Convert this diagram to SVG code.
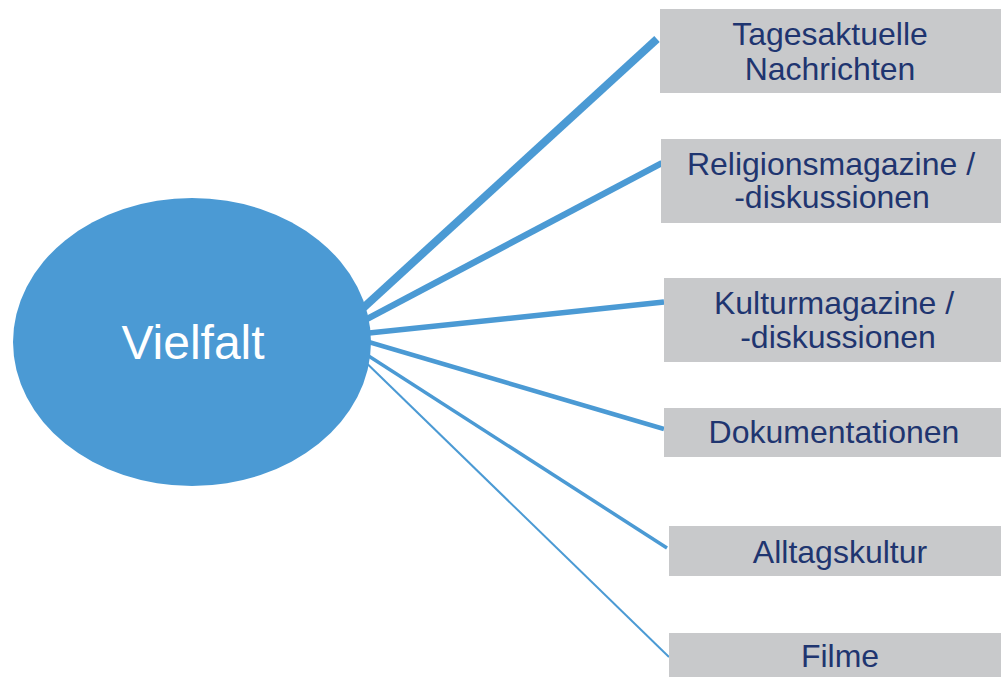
<svg xmlns="http://www.w3.org/2000/svg" width="1001" height="677" viewBox="0 0 1001 677">
<style>
.box{fill:#c8c9cb}
.lbl{font-family:"Liberation Sans",Arial,sans-serif;font-size:32px;fill:#1f3570;text-anchor:middle}
.conn{stroke:#4b9ad4;fill:none}
</style>
<rect width="1001" height="677" fill="#ffffff"/>
<g id="connectors">
<line class="conn" x1="350" y1="320" x2="657" y2="39" stroke-width="8"/>
<line class="conn" x1="350" y1="328" x2="662" y2="163" stroke-width="6.5"/>
<line class="conn" x1="350" y1="335" x2="664" y2="302" stroke-width="5.5"/>
<line class="conn" x1="350" y1="336.5" x2="664" y2="429" stroke-width="4.5"/>
<line class="conn" x1="350" y1="344" x2="667" y2="548" stroke-width="3.5"/>
<line class="conn" x1="350" y1="347" x2="669" y2="657" stroke-width="2"/>
</g>
<g id="vielfalt">
<ellipse cx="192" cy="342" rx="179" ry="144" fill="#4b9ad4"/>
<text x="193" y="359" font-family="Liberation Sans, Arial, sans-serif" font-size="48" fill="#ffffff" text-anchor="middle">Vielfalt</text>
</g>
<g id="tagesaktuelle">
<rect class="box" x="660" y="9" width="341" height="84"/>
<text class="lbl" x="830" y="45">Tagesaktuelle</text>
<text class="lbl" x="830" y="80">Nachrichten</text>
</g>
<g id="religion">
<rect class="box" x="661" y="139" width="340" height="84"/>
<text class="lbl" x="831" y="175">Religionsmagazine /</text>
<text class="lbl" x="832" y="208">-diskussionen</text>
</g>
<g id="kultur">
<rect class="box" x="664" y="278" width="337" height="84"/>
<text class="lbl" x="834" y="314">Kulturmagazine /</text>
<text class="lbl" x="838" y="348">-diskussionen</text>
</g>
<g id="doku">
<rect class="box" x="664" y="408" width="337" height="49"/>
<text class="lbl" x="834" y="443">Dokumentationen</text>
</g>
<g id="alltag">
<rect class="box" x="669" y="526" width="332" height="50"/>
<text class="lbl" x="840" y="563">Alltagskultur</text>
</g>
<g id="filme">
<rect class="box" x="669" y="633" width="332" height="44"/>
<text class="lbl" x="840" y="667">Filme</text>
</g>
</svg>
